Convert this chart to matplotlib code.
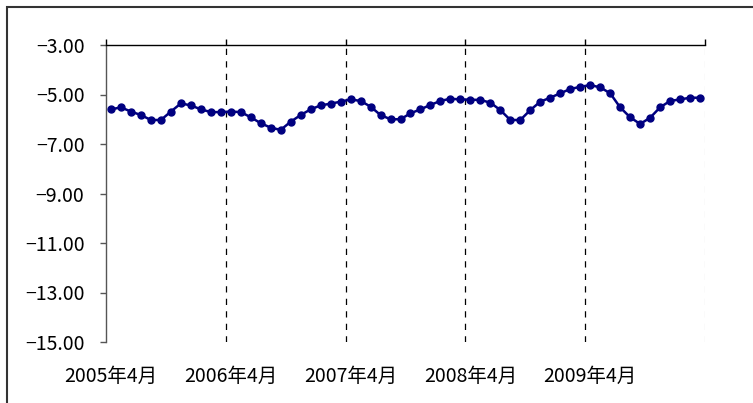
import numpy as np
import matplotlib.pyplot as plt
from matplotlib.patches import Rectangle

plt.rcParams['font.family'] = ['Noto Sans CJK JP', 'DejaVu Sans']

# monthly values, 2005年4月 .. 2010年3月
values = [
    -5.60, -5.52, -5.69, -5.83, -6.03, -6.03, -5.69, -5.36, -5.44, -5.60, -5.71, -5.71,
    -5.69, -5.71, -5.92, -6.16, -6.34, -6.43, -6.10, -5.83, -5.60, -5.44, -5.37, -5.29,
    -5.20, -5.26, -5.49, -5.83, -6.00, -6.00, -5.76, -5.60, -5.42, -5.26, -5.17, -5.20,
    -5.21, -5.22, -5.33, -5.63, -6.03, -6.03, -5.63, -5.29, -5.13, -4.95, -4.78, -4.69,
    -4.62, -4.71, -4.95, -5.52, -5.92, -6.19, -5.94, -5.52, -5.26, -5.20, -5.13, -5.13,
]
year_labels = ['2005年4月', '2006年4月', '2007年4月', '2008年4月', '2009年4月']
y_ticks = [-3, -5, -7, -9, -11, -13, -15]

fig = plt.figure(figsize=(7.53, 4.03), dpi=100)
ax = fig.add_axes([106 / 753, 1 - 342 / 403, (705 - 106) / 753, (342 - 45) / 403])

# outer frame (only left/top fall inside the picture)
fig.patches.append(Rectangle((7 / 753, -0.1), 1.2, 1 - 7 / 403 + 0.1,
                             transform=fig.transFigure, fill=False,
                             edgecolor='#333333', linewidth=1.5))

n = len(values)
x = np.arange(n) + 0.5

# vertical dashed lines at each April boundary
for b in range(12, n + 1, 12):
    c = '#d9d9d9' if b == n else 'black'
    ax.axvline(b, color=c, linewidth=0.9, linestyle=(0, (5, 5)), zorder=1)

ax.plot(x, values, color='#000080', linewidth=1.8, marker='o',
        markersize=5, zorder=3)

ax.set_xlim(0, n)
ax.set_ylim(-15, -3)

ax.spines['bottom'].set_visible(False)
ax.spines['right'].set_visible(False)
ax.spines['top'].set_color('black')
ax.spines['top'].set_linewidth(1.0)
ax.spines['left'].set_color('#555555')
ax.spines['left'].set_linewidth(1.0)

ax.set_yticks(y_ticks)
ax.set_yticklabels([f'\u2212{abs(v):.2f}' for v in y_ticks])
ax.tick_params(axis='y', direction='out', length=4.5, width=1.0, color='#555555',
               pad=11, labelsize=14)

ax.set_xticks(range(0, n + 1, 12))
ax.tick_params(axis='x', which='major', top=True, bottom=False, labeltop=False,
               labelbottom=False, direction='out', length=4, width=1.0)
ax.set_xticks(x[::12], year_labels, minor=True)
ax.tick_params(axis='x', which='minor', top=False, bottom=True, length=0,
               labelbottom=True, pad=17, labelsize=14)

fig.savefig('out.png', dpi=100)
